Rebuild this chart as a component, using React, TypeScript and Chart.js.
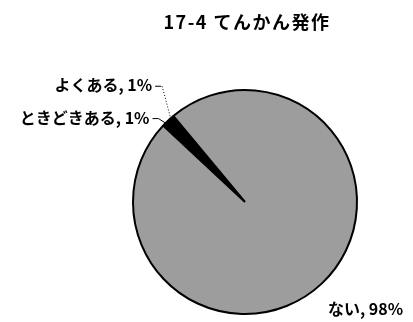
import React, { useEffect, useRef } from "react";
import { Chart, registerables } from "chart.js";

Chart.register(...registerables);

const TITLE = "17-4 てんかん発作";
const LABELS = ["ときどきある", "よくある", "ない"];
const VALUES = [1, 1, 98];
const COLORS = ["#000000", "#000000", "#9d9d9d"];

// text placement relative to each slice's edge anchor (style only)
const LAYOUT = [
  { dx: -16, dy: -5.5, align: "right", leader: "solid" },
  { dx: -18.5, dy: -33, align: "right", leader: "dotted" },
  { dx: 6, dy: 25.5, align: "left", leader: "none" },
];

const FONT = '"Noto Sans CJK JP", "Noto Sans", sans-serif';

const labelPlugin = {
  id: "pieLabels",
  afterDatasetsDraw(chart: any) {
    const ctx = chart.ctx as any;
    const meta = chart.getDatasetMeta(0);
    ctx.save();
    ctx.fillStyle = "#000";
    ctx.font = `bold 18px ${FONT}`;
    ctx.letterSpacing = "1.5px";
    ctx.textAlign = "center";
    ctx.textBaseline = "middle";
    ctx.fillText(TITLE, 247, 22);
    ctx.letterSpacing = "0px";

    meta.data.forEach((arc: any, i: number) => {
      const p = arc.getProps(["x", "y", "startAngle", "endAngle", "outerRadius"], true);
      const mid = (p.startAngle + p.endAngle) / 2;
      const ax = p.x + Math.cos(mid) * p.outerRadius;
      const ay = p.y + Math.sin(mid) * p.outerRadius;
      const lay = LAYOUT[i];
      const tx = ax + lay.dx;
      const ty = ay + lay.dy;
      const text = `${LABELS[i]}, ${VALUES[i]}%`;
      ctx.font = `bold 16px ${FONT}`;
      ctx.textAlign = lay.align;
      ctx.textBaseline = "middle";
      ctx.fillStyle = "#000";
      ctx.fillText(text, tx, ty);
      if (lay.leader !== "none") {
        ctx.strokeStyle = "#000";
        ctx.lineWidth = 1;
        ctx.setLineDash([]);
        ctx.beginPath();
        ctx.moveTo(tx + 3, ty + 1);
        ctx.lineTo(tx + 9, ty + 1);
        if (lay.leader === "solid") {
          ctx.lineTo(ax, ay);
          ctx.stroke();
        } else {
          ctx.stroke();
          ctx.setLineDash([1, 2]);
          ctx.beginPath();
          ctx.moveTo(tx + 10, ty + 1);
          ctx.lineTo(ax, ay);
          ctx.stroke();
          ctx.setLineDash([]);
        }
      }
    });
    ctx.restore();
  },
};

export default function App() {
  const ref = useRef<HTMLCanvasElement>(null);
  useEffect(() => {
    if (!ref.current) return;
    const chart = new Chart(ref.current, {
      type: "pie",
      data: {
        labels: LABELS,
        datasets: [
          {
            data: VALUES,
            backgroundColor: COLORS,
            borderColor: "#000",
            borderWidth: 2,
          },
        ],
      },
      options: {
        animation: false,
        responsive: false,
        devicePixelRatio: 1,
        rotation: 313,
        layout: { padding: { left: 132, right: 55, top: 89, bottom: 7 } },
        plugins: {
          legend: { display: false },
          tooltip: { enabled: false },
          title: { display: false },
        },
      },
      plugins: [labelPlugin],
    });
    return () => chart.destroy();
  }, []);
  return (
    <div style={{ position: "fixed", left: 0, top: 0, width: 413, height: 322, background: "#fff" }}>
      <canvas ref={ref} width={413} height={322} />
    </div>
  );
}
